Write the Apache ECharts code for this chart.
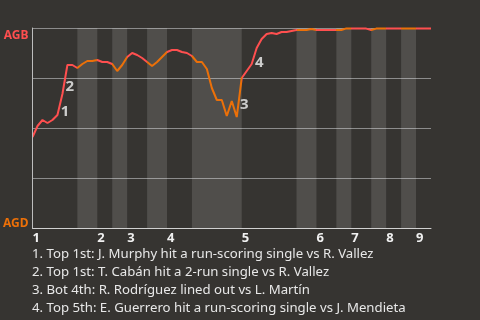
<!DOCTYPE html>
<html><head><meta charset="utf-8">
<script src="https://cdn.jsdelivr.net/npm/echarts@6/dist/echarts.min.js"></script>
<style>html,body{margin:0;padding:0;background:#363431;}#c{width:480px;height:320px;}</style>
</head><body><div id="c"></div>
<script>
// Win probability for AGB after each plate appearance (index = plate appearance)
const winProb = [
  0.455, 0.51, 0.54, 0.525, 0.54, 0.565, 0.67, 0.815, 0.815, 0.80,
  0.82, 0.835, 0.835, 0.84, 0.83, 0.83, 0.82, 0.785, 0.815, 0.855,
  0.875, 0.865, 0.85, 0.83, 0.81, 0.83, 0.855, 0.88, 0.89, 0.89,
  0.88, 0.875, 0.86, 0.83, 0.83, 0.795, 0.70, 0.64, 0.64, 0.56,
  0.635, 0.555, 0.75, 0.785, 0.82, 0.90, 0.945, 0.97, 0.975, 0.97,
  0.98, 0.98, 0.985, 0.99, 0.99, 0.99, 0.995, 0.99, 0.99, 0.99,
  0.99, 0.99, 0.99, 0.998, 0.997, 0.997, 0.997, 0.997, 0.99, 0.997,
  0.997, 0.997, 0.997, 0.997, 0.997, 0.997, 0.997, 0.997, 0.997, 0.997,
  0.997
];
// plate-appearance index where each half inning starts (top 1, bot 1, top 2, ...)
const halfStarts = [0, 9, 13, 16, 19, 23, 27, 32, 42, 53, 57, 61, 64, 68, 71, 74, 77];
const lastPA = 80;
const inningLabels = ['1', '2', '3', '4', '5', '6', '7', '8', '9'];
const teamLabels = ['AGD', 'AGB'];
// plate appearance that ends each annotated event
const eventEnds = [6, 7, 42, 45];
const eventMarks = ['1', '2', '3', '4'];
const eventNotes = [
  '1. Top 1st: J. Murphy hit a run-scoring single vs R. Vallez',
  '2. Top 1st: T. Cabán hit a 2-run single vs R. Vallez',
  '3. Bot 4th: R. Rodríguez lined out vs L. Martín',
  '4. Top 5th: E. Guerrero hit a run-scoring single vs J. Mendieta'
];

const RED = '#ff4f4f', ORANGE = '#ec7008';
const FONT = 'Noto Sans';

const inningStarts = halfStarts.filter((_, i) => i % 2 === 0);
const pieces = halfStarts.map((s, i) => ({
  gte: s, lt: i + 1 < halfStarts.length ? halfStarts[i + 1] : lastPA + 1,
  color: i % 2 === 0 ? RED : ORANGE
}));
const bands = [];
for (let i = 1; i < halfStarts.length; i += 2) {
  bands.push([{ xAxis: halfStarts[i] }, { xAxis: i + 1 < halfStarts.length ? halfStarts[i + 1] : lastPA }]);
}
const eventPts = eventEnds.map((e, i) => [e - 0.5, (winProb[e - 1] + winProb[e]) / 2, eventMarks[i]]);

const chart = echarts.init(document.getElementById('c'));
chart.setOption({
  backgroundColor: '#363431',
  animation: false,
  textStyle: { fontFamily: FONT },
  title: {
    text: eventNotes.join('\n'),
    left: 32, top: 245, padding: 0,
    textStyle: { fontFamily: FONT, fontSize: 13.2, fontWeight: 'normal', color: '#e8e8e8', lineHeight: 18 }
  },
  grid: { left: 31, right: 49, top: 28, bottom: 92 },
  visualMap: { show: false, type: 'piecewise', dimension: 0, seriesIndex: 0, pieces: pieces },
  xAxis: {
    type: 'value', min: 0, max: lastPA,
    splitLine: { show: false },
    axisLine: { lineStyle: { color: '#d0d0d0', width: 1 } },
    axisTick: { show: false },
    axisLabel: {
      customValues: inningStarts,
      formatter: v => inningLabels[inningStarts.indexOf(v)],
      align: 'left', margin: 4,
      color: '#f0f0f0', fontWeight: 'bold', fontSize: 13, fontFamily: FONT
    }
  },
  yAxis: {
    type: 'value', min: 0, max: 1, interval: 0.25,
    splitLine: { lineStyle: { color: '#8c8c8c', width: 1 } },
    axisLine: { show: true, lineStyle: { color: '#bdbdbd', width: 1 } },
    axisTick: { show: false },
    axisLabel: {
      customValues: [0, 1],
      margin: 4,
      formatter: v => v === 1 ? '{b|' + teamLabels[1] + '}' : '{d|' + teamLabels[0] + '}',
      rich: {
        b: { color: RED, fontWeight: 'bold', fontSize: 12, fontFamily: FONT, padding: [15, 0, 0, 0] },
        d: { color: ORANGE, fontWeight: 'bold', fontSize: 12, fontFamily: FONT, padding: [0, 0, 9, 0] }
      }
    }
  },
  series: [
    {
      type: 'line', data: winProb.map((v, i) => [i, v]),
      showSymbol: false, lineStyle: { width: 2 }, z: 3,
      markArea: { silent: true, itemStyle: { color: 'rgba(255,255,255,0.13)' }, data: bands }
    },
    {
      type: 'scatter', data: eventPts, symbolSize: 0, z: 4, silent: true,
      label: {
        show: true, position: 'inside', offset: [5, 7],
        formatter: p => p.value[2],
        color: '#f2f2f2', fontWeight: 'bold', fontSize: 15, fontFamily: FONT
      }
    }
  ]
});
</script></body></html>
